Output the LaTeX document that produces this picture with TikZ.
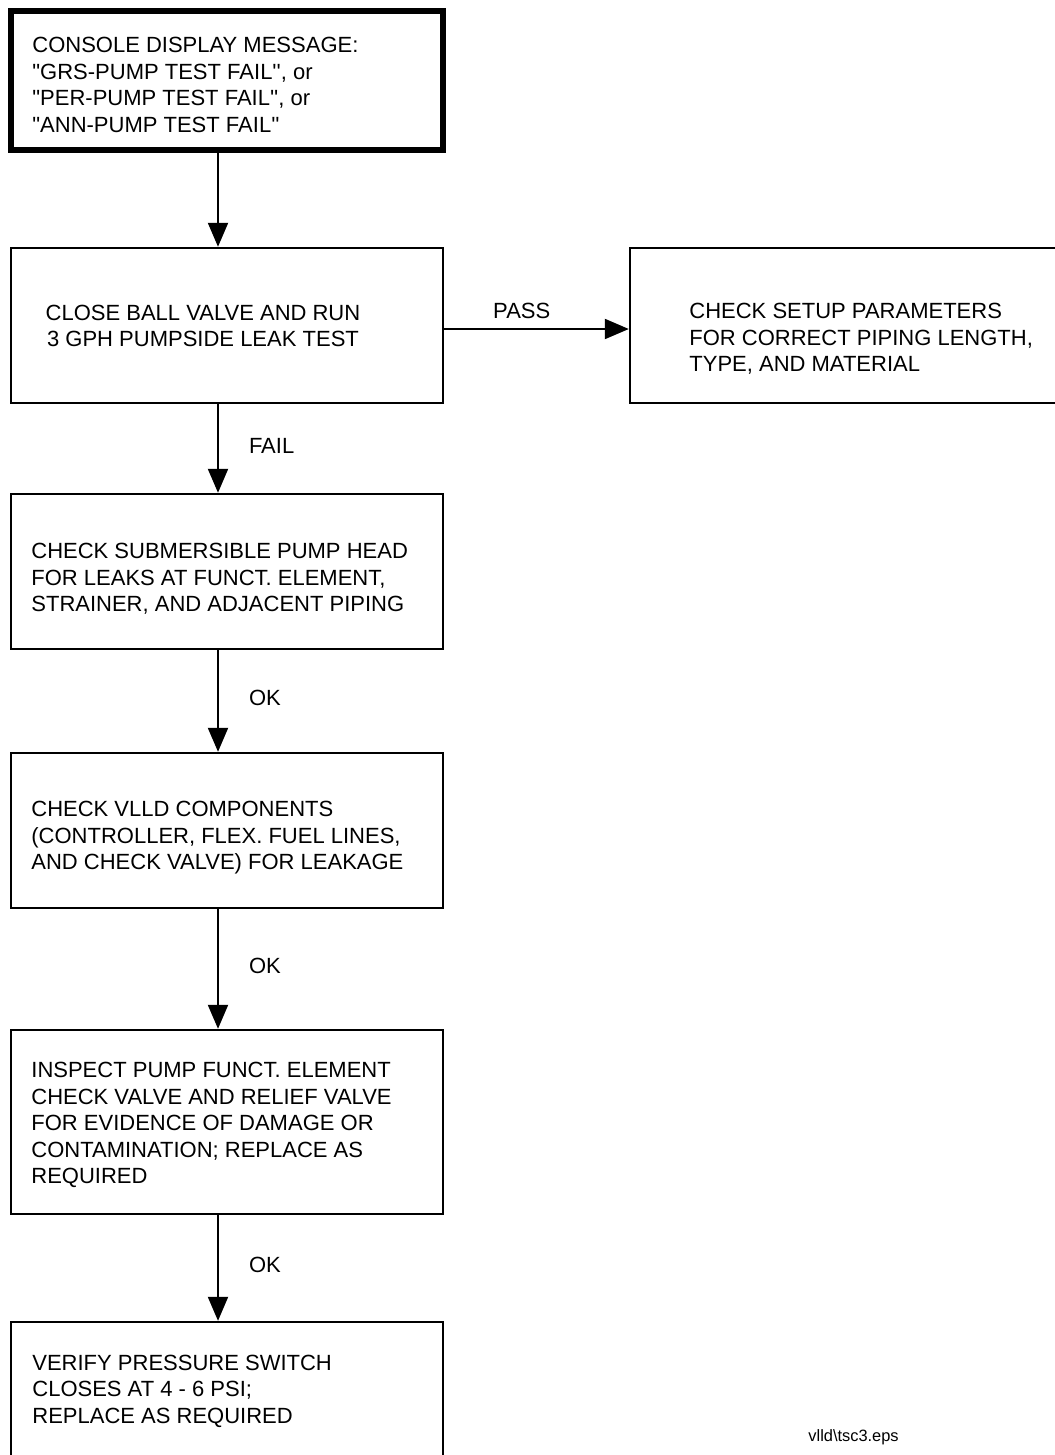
\documentclass[tikz,border=0pt]{standalone}
\usepackage{fontspec}
\setmainfont{Liberation Sans}[Ligatures=TeXOff]
\usepackage{tikz}
\usetikzlibrary{positioning}
\usetikzlibrary{arrows.meta,calc}
\tikzstyle{stepbox}=[rectangle,draw=black,line width=1.2pt,minimum width=216pt,inner sep=0pt]
\tikzstyle{startbox}=[stepbox,line width=3pt]
\tikzstyle{steptext}=[align=left,anchor=west,inner sep=0pt,font=\fontsize{11}{13.25}\selectfont]
\tikzstyle{edge} = [draw,line width=1pt,-{Triangle[length=12pt,width=10pt]}]
\tikzstyle{weight} = [font=\fontsize{11}{13.25}\selectfont,inner sep=0pt]

\begin{document}
\begin{tikzpicture}[x=0.5pt,y=-0.5pt]
    \useasboundingbox (0,0) rectangle (1054,1455);

    \node[startbox,minimum height=69.5pt] (console) at (227,80.5) {};
    \foreach \pos/\name/\boxh in {{(227,325.5)/leak/77.5pt}, {(846,325.5)/setup/77.5pt}, {(227,571.5)/pumphead/77.5pt}, {(227,830.5)/vlld/77.5pt}, {(227,1122)/inspect/92pt}, {(227,1401)/pswitch/79pt}}
        \node[stepbox,minimum height=\boxh] (\name) at \pos {};

    \foreach \pos/\name/\label in {{(32,85)/consoletxt/{CONSOLE DISPLAY MESSAGE:\\"GRS-PUMP TEST FAIL'', or\\"PER-PUMP TEST FAIL'', or\\"ANN-PUMP TEST FAIL''}}, {(689,339)/setuptxt/{CHECK SETUP PARAMETERS\\FOR CORRECT PIPING LENGTH,\\TYPE, AND MATERIAL}}, {(31,579)/pumpheadtxt/{CHECK SUBMERSIBLE PUMP HEAD\\FOR LEAKS AT FUNCT. ELEMENT,\\STRAINER, AND ADJACENT PIPING}}, {(31,838)/vlldtxt/{CHECK VLLD COMPONENTS\\(CONTROLLER, FLEX. FUEL LINES,\\AND CHECK VALVE) FOR LEAKAGE}}, {(31,1125)/inspecttxt/{INSPECT PUMP FUNCT. ELEMENT\\CHECK VALVE AND RELIEF VALVE\\FOR EVIDENCE OF DAMAGE OR\\CONTAMINATION; REPLACE AS\\REQUIRED}}, {(32,1391)/pswitchtxt/{VERIFY PRESSURE SWITCH\\CLOSES AT 4 - 6 PSI;\\REPLACE AS REQUIRED}}}
        \node[steptext] (\name) at \pos {\label};

    \node[steptext,align=center,anchor=center] (leaktxt) at (203,326) {CLOSE BALL VALVE AND RUN\\3 GPH PUMPSIDE LEAK TEST};

    \coordinate (spine) at (218,0);
    \coordinate (passline) at (0,329);

    \foreach \source/ \dest /\weight in {console/leak/{}, leak/pumphead/FAIL, pumphead/vlld/OK, vlld/inspect/OK, inspect/pswitch/OK}
        \path[edge] (\source.south -| spine) -- node[weight,anchor=west,xshift=15pt,yshift=1.5pt] {\weight} (\dest.north -| spine);

    \path[edge] (leak.east |- passline) -- node[weight,pos=0.42,above=4.5pt] {PASS} (setup.west |- passline);

    \node[inner sep=0pt,anchor=west,font=\fontsize{8.2}{10}\selectfont] (epsname) at (808,1437) {vlld\textbackslash tsc3.eps};
\end{tikzpicture}
\end{document}
